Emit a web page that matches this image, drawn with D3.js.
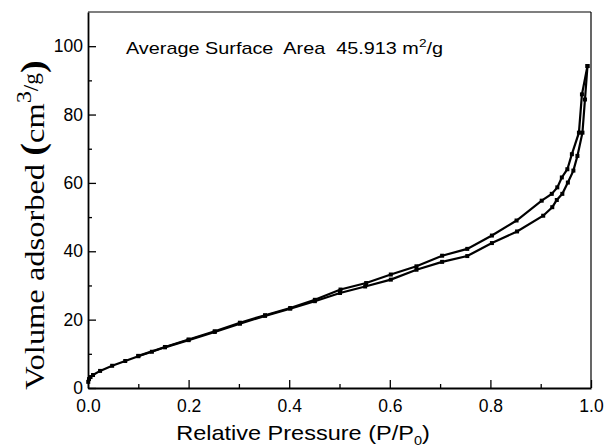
<!DOCTYPE html>
<html><head><meta charset="utf-8">
<script src="https://cdn.jsdelivr.net/npm/d3@7"></script>
<style>
html,body{margin:0;padding:0;background:#fff;}
svg{display:block;}
</style></head>
<body>
<svg id="chart" width="606" height="447"></svg>
<script>
// ---- data ----
const adsP = [0.0005, 0.002, 0.005, 0.01, 0.024, 0.048, 0.074, 0.1, 0.127, 0.153, 0.2, 0.252, 0.302, 0.352, 0.402, 0.451, 0.501, 0.551, 0.602, 0.653, 0.704, 0.754, 0.803, 0.853, 0.905, 0.923, 0.932, 0.943, 0.954, 0.965, 0.973, 0.983, 0.988, 0.993];
const adsV = [1.8, 2.6, 3.2, 3.8, 5.0, 6.5, 7.9, 9.3, 10.6, 11.9, 14.0, 16.4, 18.8, 21.1, 23.2, 25.4, 27.8, 29.7, 31.7, 34.6, 36.9, 38.6, 42.4, 45.8, 50.4, 52.9, 55.0, 56.8, 60.1, 63.6, 67.9, 74.7, 84.4, 94.2];
const desP = [0.993, 0.982, 0.976, 0.962, 0.953, 0.942, 0.933, 0.922, 0.902, 0.852, 0.803, 0.754, 0.704, 0.653, 0.602, 0.553, 0.502, 0.451, 0.402, 0.352, 0.302, 0.252, 0.2, 0.153, 0.1];
const desV = [94.2, 85.9, 74.7, 68.4, 64.0, 61.6, 58.7, 56.8, 54.8, 49.0, 44.6, 40.7, 38.7, 35.6, 33.2, 30.7, 28.8, 25.8, 23.4, 21.3, 19.1, 16.6, 14.2, 12.0, 9.4];
const xTicks = [0, 0.2, 0.4, 0.6, 0.8, 1.0];
const xMinor = [0.1, 0.3, 0.5, 0.7, 0.9];
const yTicks = [0, 20, 40, 60, 80, 100];
const yMinor = [10, 30, 50, 70, 90];

const L = 88, R = 591, T = 12, B = 388;
const svg = d3.select("#chart");
const x = d3.scaleLinear().domain([0, 1]).range([L, R]);
const y = d3.scaleLinear().domain([0, 110]).range([B, T]);

// frame top/right
svg.append("line").attr("x1", L).attr("x2", R).attr("y1", T).attr("y2", T).attr("stroke", "#000").attr("stroke-width", 1.2);
svg.append("line").attr("x1", R).attr("x2", R).attr("y1", T).attr("y2", B).attr("stroke", "#000").attr("stroke-width", 1.2);

// axes
svg.append("g").attr("transform", `translate(0,${B})`)
  .call(d3.axisBottom(x).tickValues(xTicks).tickFormat(d3.format(".1f")).tickSizeInner(-8).tickSizeOuter(0).tickPadding(12));
svg.append("g").attr("transform", `translate(0,${B})`)
  .call(d3.axisBottom(x).tickValues(xMinor).tickFormat("").tickSizeInner(-4).tickSizeOuter(0))
  .select(".domain").remove();
svg.append("g").attr("transform", `translate(${L},0)`)
  .call(d3.axisLeft(y).tickValues(yTicks).tickFormat(d3.format("d")).tickSizeInner(-8).tickSizeOuter(0).tickPadding(5));
svg.append("g").attr("transform", `translate(${L},0)`)
  .call(d3.axisLeft(y).tickValues(yMinor).tickFormat("").tickSizeInner(-4).tickSizeOuter(0))
  .select(".domain").remove();

svg.selectAll(".domain").attr("stroke", "#000").attr("stroke-width", 1.8);
svg.selectAll(".tick line").attr("stroke", "#000").attr("stroke-width", 1.3);
svg.selectAll(".tick text").attr("fill", "#000").style("font-family", "'Liberation Sans', Arial, sans-serif").style("font-size", "17.5px");

// series
const line = d3.line().x(d => x(d[0])).y(d => y(d[1]));
const ads = adsP.map((p, i) => [p, adsV[i]]);
const des = desP.map((p, i) => [p, desV[i]]);
[ads, des].forEach(s => {
  svg.append("path").datum(s).attr("d", line).attr("fill", "none").attr("stroke", "#000").attr("stroke-width", 2.2);
  svg.append("g").selectAll("rect").data(s).join("rect")
    .attr("x", d => x(d[0]) - 2).attr("y", d => y(d[1]) - 2)
    .attr("width", 4).attr("height", 4).attr("fill", "#000");
});

// annotation
const ann = svg.append("text").attr("transform", "translate(126,54) scale(1.24,1)")
  .style("font-family", "'Liberation Sans', Arial, sans-serif").style("font-size", "16px").style("white-space", "pre").attr("fill", "#000");
ann.append("tspan").text("Average Surface  Area  45.913 m");
ann.append("tspan").attr("dy", -7).style("font-size", "11px").text("2");
ann.append("tspan").attr("dy", 7).text("/g");

// x title
const xt = svg.append("text").attr("transform", "translate(303,440) scale(1.12,1)").attr("text-anchor", "middle")
  .style("font-family", "'Liberation Sans', Arial, sans-serif").style("font-size", "21px").attr("fill", "#000");
xt.append("tspan").text("Relative Pressure (P/P");
xt.append("tspan").attr("dy", 5).style("font-size", "13px").text("0");
xt.append("tspan").attr("dy", -5).text(")");

// y title
const yt = svg.append("text").attr("transform", "translate(44,225) rotate(-90) scale(1.16,1)").attr("text-anchor", "middle")
  .style("font-family", "'Liberation Serif', 'Times New Roman', serif").style("font-size", "28px").attr("fill", "#000");
yt.append("tspan").text("Volume adsorbed ");
yt.append("tspan").style("font-weight", "bold").style("font-size", "33px").text("(");
yt.append("tspan").text("cm");
yt.append("tspan").attr("dy", -13).style("font-size", "21px").text("3");
yt.append("tspan").attr("dy", 7).style("font-size", "20px").text("/g");
yt.append("tspan").attr("dy", 6).style("font-weight", "bold").style("font-size", "33px").text(")");
</script>
</body></html>
